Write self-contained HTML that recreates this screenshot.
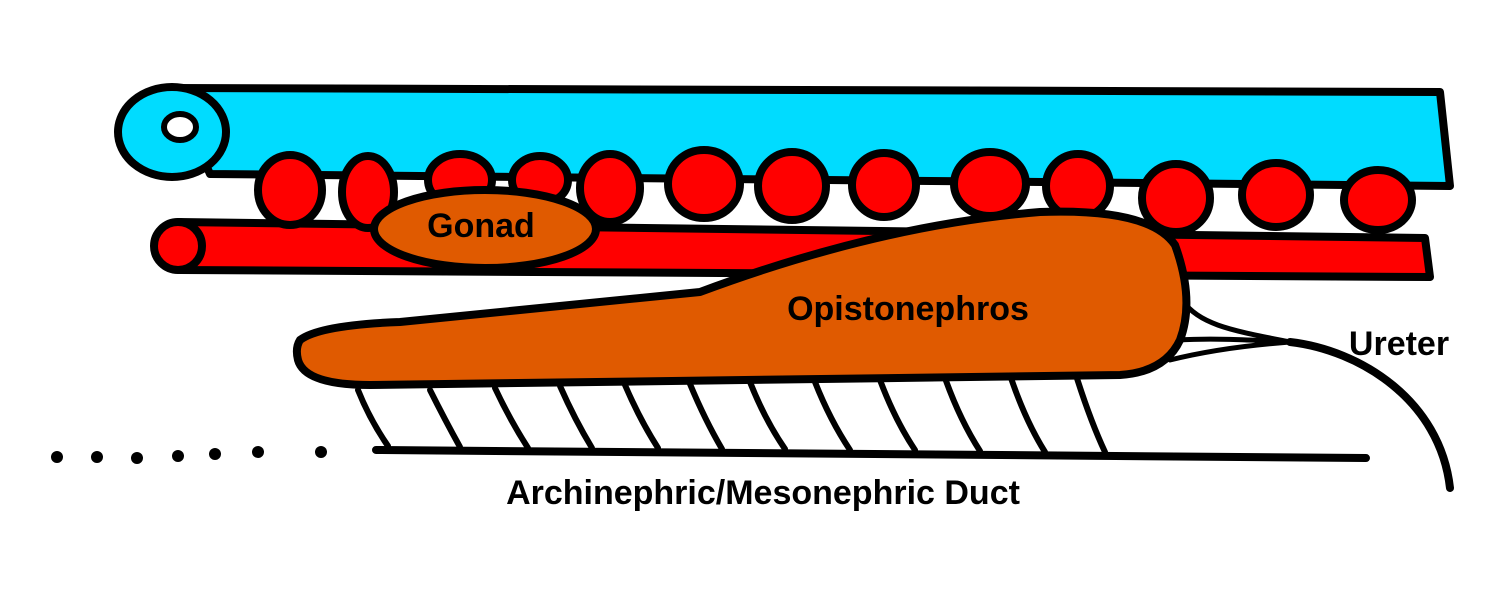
<!DOCTYPE html>
<html><head><style>
html,body{margin:0;padding:0;background:#fff;}
svg{display:block;}
text{font-family:"Liberation Sans",Arial,sans-serif;font-weight:bold;fill:#000;}
</style></head><body>
<svg width="1496" height="595" viewBox="0 0 1496 595" xmlns="http://www.w3.org/2000/svg">
<g stroke="#000" stroke-width="8" stroke-linecap="round" stroke-linejoin="round">
<!-- blue tube -->
<path d="M172,88 L1440,92 L1450,186 L210,174 Z" fill="#00dcff"/>
<ellipse cx="172" cy="132" rx="54" ry="45" fill="#00dcff"/>
<ellipse cx="180" cy="127" rx="16" ry="13" fill="#fff" stroke-width="6"/>
<!-- red vessel -->
<path d="M178,222 L1425,238 L1430,277 L180,270 Z" fill="#ff0000"/>
<ellipse cx="178" cy="246" rx="24" ry="24" fill="#ff0000"/>
<!-- balls -->
<ellipse cx="290" cy="190" rx="32" ry="35" fill="#ff0000"/>
<ellipse cx="368" cy="192" rx="26" ry="36" fill="#ff0000"/>
<ellipse cx="460" cy="180" rx="32" ry="26" fill="#ff0000"/>
<ellipse cx="540" cy="180" rx="28" ry="24" fill="#ff0000"/>
<ellipse cx="610" cy="188" rx="30" ry="34" fill="#ff0000"/>
<ellipse cx="704" cy="184" rx="36" ry="34" fill="#ff0000"/>
<ellipse cx="792" cy="186" rx="34" ry="34" fill="#ff0000"/>
<ellipse cx="884" cy="185" rx="32" ry="32" fill="#ff0000"/>
<ellipse cx="990" cy="184" rx="36" ry="32" fill="#ff0000"/>
<ellipse cx="1078" cy="186" rx="32" ry="32" fill="#ff0000"/>
<ellipse cx="1176" cy="198" rx="34" ry="34" fill="#ff0000"/>
<ellipse cx="1276" cy="195" rx="34" ry="32" fill="#ff0000"/>
<ellipse cx="1378" cy="200" rx="34" ry="30" fill="#ff0000"/>
<!-- gonad -->
<ellipse cx="485" cy="229" rx="111" ry="39" fill="#e05a00"/>
<!-- ureter -->
<path d="M1182,300 C1200,325 1230,330 1290,342 M1178,340 C1215,338 1250,340 1290,342 M1170,360 C1210,350 1250,345 1290,342" fill="none" stroke-width="5"/>
<path d="M1290,342 C1360,350 1440,400 1450,488" fill="none"/>
<!-- tubules -->
<g stroke-width="6" fill="none">
<path d="M358,390 Q370,420 388,446"/>
<path d="M430,390 Q445,420 460,447"/>
<path d="M495,388 Q510,420 528,448"/>
<path d="M560,386 Q575,420 592,448"/>
<path d="M625,385 Q640,420 658,448"/>
<path d="M690,384 Q705,420 722,449"/>
<path d="M750,382 Q765,420 785,449"/>
<path d="M815,382 Q830,420 850,450"/>
<path d="M880,380 Q895,420 915,450"/>
<path d="M945,378 Q960,420 980,451"/>
<path d="M1010,375 Q1025,420 1045,452"/>
<path d="M1075,372 Q1090,420 1105,452"/>
</g>
<!-- kidney -->
<path d="M300,340 Q320,325 400,322 L700,292 Q880,225 1040,212 Q1150,208 1175,245 Q1195,300 1180,340 Q1165,372 1120,375 L370,385 Q305,385 298,360 Q295,348 300,340 Z" fill="#e05a00"/>
<!-- duct -->
<path d="M376,450 L1366,458" fill="none"/>
</g>
<g fill="#000">
<circle cx="57" cy="457" r="6"/><circle cx="97" cy="457" r="6"/><circle cx="137" cy="458" r="6"/>
<circle cx="178" cy="456" r="6"/><circle cx="215" cy="454" r="6"/><circle cx="258" cy="452" r="6"/>
<circle cx="321" cy="452" r="6"/>
</g>
<text x="481" y="237" font-size="34" text-anchor="middle">Gonad</text>
<text x="908" y="320" font-size="34" text-anchor="middle">Opistonephros</text>
<text x="1399" y="355" font-size="34" text-anchor="middle">Ureter</text>
<text x="763" y="504" font-size="34" text-anchor="middle">Archinephric/Mesonephric Duct</text>
</svg>
</body></html>
